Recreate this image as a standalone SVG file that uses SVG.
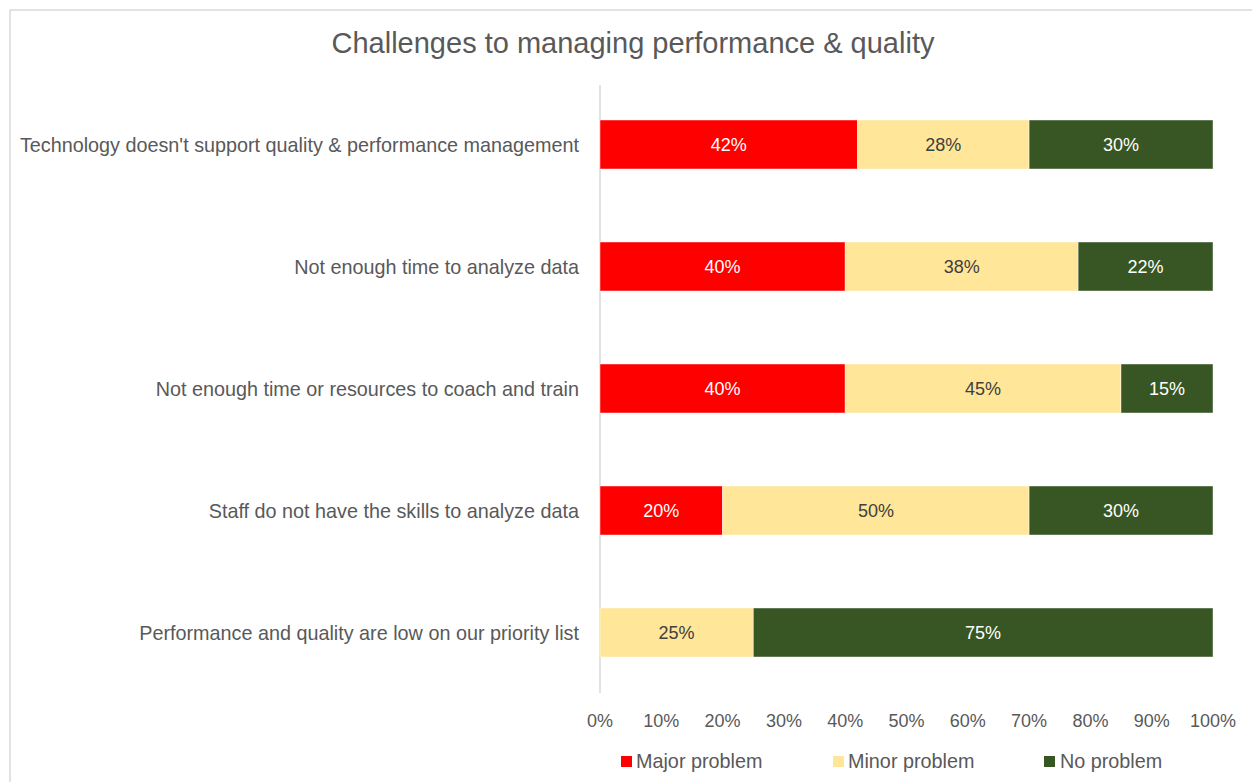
<svg xmlns="http://www.w3.org/2000/svg" width="1252" height="782" viewBox="0 0 1252 782">
<style>
.cat{font-family:"Liberation Sans",Arial,sans-serif;font-size:19.8px;fill:#595959;text-anchor:end}
.tick{font-family:"Liberation Sans",Arial,sans-serif;font-size:18px;fill:#595959;text-anchor:middle}
.dl{font-family:"Liberation Sans",Arial,sans-serif;font-size:18px;text-anchor:middle}
.w{fill:#ffffff}
.d{fill:#404040}
.leg{font-family:"Liberation Sans",Arial,sans-serif;font-size:19.8px;fill:#595959}
.maj{fill:#ff0000}
.min{fill:#ffe699}
.no{fill:#375623}
.bar rect{stroke:#ffffff;stroke-width:0.75;stroke-opacity:0.6}
</style>
<rect x="0" y="0" width="1252" height="782" fill="#ffffff"/>
<rect x="10" y="10" width="1260" height="800" fill="#ffffff" stroke="#d9d9d9" stroke-width="1.5"/>
<text id="title" x="633" y="53" font-family="Liberation Sans,Arial,sans-serif" font-size="29" fill="#595959" text-anchor="middle">Challenges to managing performance &amp; quality</text>
<g id="axis">
<line x1="600" y1="85" x2="600" y2="693" stroke="#d9d9d9" stroke-width="1.5"/>
</g>
<g id="row1" class="bar">
<text class="cat" x="579" y="151.5">Technology doesn't support quality &amp; performance management</text>
<rect class="maj" x="600" y="120" width="257.5" height="49"/>
<rect class="min" x="857.5" y="120" width="171.6" height="49"/>
<rect class="no" x="1029.1" y="120" width="183.9" height="49"/>
<text class="dl w" x="728.7" y="151">42%</text>
<text class="dl d" x="943.3" y="151">28%</text>
<text class="dl w" x="1121" y="151">30%</text>
</g>
<g id="row2" class="bar">
<text class="cat" x="579" y="273.5">Not enough time to analyze data</text>
<rect class="maj" x="600" y="242" width="245.2" height="49"/>
<rect class="min" x="845.2" y="242" width="232.9" height="49"/>
<rect class="no" x="1078.1" y="242" width="134.9" height="49"/>
<text class="dl w" x="722.6" y="273">40%</text>
<text class="dl d" x="961.7" y="273">38%</text>
<text class="dl w" x="1145.6" y="273">22%</text>
</g>
<g id="row3" class="bar">
<text class="cat" x="579" y="395.5">Not enough time or resources to coach and train</text>
<rect class="maj" x="600" y="364" width="245.2" height="49"/>
<rect class="min" x="845.2" y="364" width="275.8" height="49"/>
<rect class="no" x="1121" y="364" width="92" height="49"/>
<text class="dl w" x="722.6" y="395">40%</text>
<text class="dl d" x="983.1" y="395">45%</text>
<text class="dl w" x="1167" y="395">15%</text>
</g>
<g id="row4" class="bar">
<text class="cat" x="579" y="517.5">Staff do not have the skills to analyze data</text>
<rect class="maj" x="600" y="486" width="122.6" height="49"/>
<rect class="min" x="722.6" y="486" width="306.5" height="49"/>
<rect class="no" x="1029.1" y="486" width="183.9" height="49"/>
<text class="dl w" x="661.3" y="517">20%</text>
<text class="dl d" x="875.9" y="517">50%</text>
<text class="dl w" x="1121" y="517">30%</text>
</g>
<g id="row5" class="bar">
<text class="cat" x="579" y="639.5">Performance and quality are low on our priority list</text>
<rect class="min" x="600" y="608" width="153.3" height="49"/>
<rect class="no" x="753.3" y="608" width="459.7" height="49"/>
<text class="dl d" x="676.6" y="639">25%</text>
<text class="dl w" x="983.1" y="639">75%</text>
</g>
<g id="ticks">
<text class="tick" x="600" y="727">0%</text>
<text class="tick" x="661.3" y="727">10%</text>
<text class="tick" x="722.6" y="727">20%</text>
<text class="tick" x="783.9" y="727">30%</text>
<text class="tick" x="845.2" y="727">40%</text>
<text class="tick" x="906.5" y="727">50%</text>
<text class="tick" x="967.8" y="727">60%</text>
<text class="tick" x="1029.1" y="727">70%</text>
<text class="tick" x="1090.4" y="727">80%</text>
<text class="tick" x="1151.7" y="727">90%</text>
<text class="tick" x="1213" y="727">100%</text>
</g>
<g id="legend">
<rect class="maj" x="621" y="756" width="11" height="11"/>
<text class="leg" x="636" y="768">Major problem</text>
<rect class="min" x="833" y="756" width="11" height="11"/>
<text class="leg" x="848" y="768">Minor problem</text>
<rect class="no" x="1044" y="756" width="11" height="11"/>
<text class="leg" x="1060" y="768">No problem</text>
</g>
</svg>
